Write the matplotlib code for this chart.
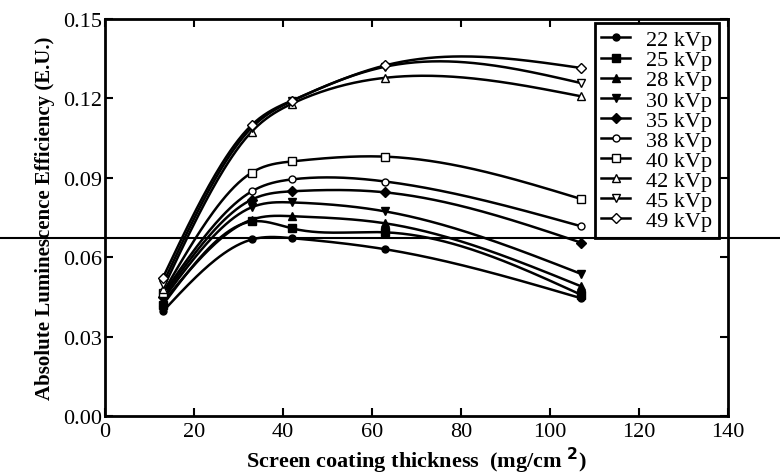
import numpy as np
import matplotlib
matplotlib.use('Agg')
import matplotlib.pyplot as plt
from matplotlib.lines import Line2D

plt.rcParams['font.family'] = ['Liberation Serif', 'DejaVu Serif']

# coating thickness (mg/cm2)
espesor = [13, 33, 42, 63, 107]

kvp = ['22 kVp', '25 kVp', '28 kVp', '30 kVp', '35 kVp',
       '38 kVp', '40 kVp', '42 kVp', '45 kVp', '49 kVp']

ef_22 = [0.0395, 0.0667, 0.0672, 0.0630, 0.0445]
ef_25 = [0.0420, 0.0735, 0.0709, 0.0694, 0.0458]
ef_28 = [0.0430, 0.0742, 0.0755, 0.0728, 0.0490]
ef_30 = [0.0440, 0.0789, 0.0807, 0.0773, 0.0537]
ef_35 = [0.0450, 0.0818, 0.0849, 0.0845, 0.0655]
ef_38 = [0.0460, 0.0849, 0.0894, 0.0886, 0.0717]
ef_40 = [0.0465, 0.0920, 0.0962, 0.0980, 0.0820]
ef_42 = [0.0480, 0.1075, 0.1180, 0.1278, 0.1208]
ef_45 = [0.0500, 0.1090, 0.1190, 0.1320, 0.1258]
ef_49 = [0.0522, 0.1100, 0.1192, 0.1325, 0.1315]

series = [ef_22, ef_25, ef_28, ef_30, ef_35, ef_38, ef_40, ef_42, ef_45, ef_49]
markers = ['o', 's', '^', 'v', 'D', 'o', 's', '^', 'v', 'D']
filled = [True] * 5 + [False] * 5


def spline(x, y, n=200):
    # natural cubic spline, only for drawing the smooth curve
    x = np.asarray(x, float)
    y = np.asarray(y, float)
    k = len(x)
    h = np.diff(x)
    A = np.zeros((k, k))
    b = np.zeros(k)
    A[0, 0] = A[-1, -1] = 1
    for i in range(1, k - 1):
        A[i, i - 1] = h[i - 1]
        A[i, i] = 2 * (h[i - 1] + h[i])
        A[i, i + 1] = h[i]
        b[i] = 6 * ((y[i + 1] - y[i]) / h[i] - (y[i] - y[i - 1]) / h[i - 1])
    M = np.linalg.solve(A, b)
    xs = np.linspace(x[0], x[-1], n)
    idx = np.clip(np.searchsorted(x, xs) - 1, 0, k - 2)
    x0, x1 = x[idx], x[idx + 1]
    hh = x1 - x0
    ys = (M[idx] * (x1 - xs) ** 3 / (6 * hh) + M[idx + 1] * (xs - x0) ** 3 / (6 * hh)
          + (y[idx] / hh - M[idx] * hh / 6) * (x1 - xs)
          + (y[idx + 1] / hh - M[idx + 1] * hh / 6) * (xs - x0))
    return xs, ys


fig = plt.figure(figsize=(7.8, 4.77), dpi=100)
ax = fig.add_axes([0.1346, 0.1258, 0.7987, 0.8322])

handles = []
for ys, m, f, lab in zip(series, markers, filled, kvp):
    xs_s, ys_s = spline(espesor, ys)
    ax.plot(xs_s, ys_s, color='black', lw=1.8)
    ms = 5 if m in ('o', 'D') else 5.5
    ax.plot(espesor, ys, ls='none', marker=m, ms=ms, color='black',
            mfc='black' if f else 'white', mec='black', mew=1.0)
    handles.append(Line2D([], [], color='black', lw=1.8, marker=m, ms=ms,
                          mfc='black' if f else 'white', mec='black', mew=1.0))

ax.set_xlim(0, 140)
ax.set_ylim(0, 0.15)
ax.set_xticks(range(0, 141, 20))
ax.set_yticks([0.0, 0.03, 0.06, 0.09, 0.12, 0.15])
ax.set_yticklabels(['0.00', '0.03', '0.06', '0.09', '0.12', '0.15'])
ax.tick_params(direction='in', length=6, width=1.5, top=True, right=True,
               labelsize=16, pad=2)
ax.tick_params(axis='x', pad=4)
for s in ax.spines.values():
    s.set_linewidth(2)

ax.set_xlabel('Screen coating thickness  (mg/cm $^{\\mathbf{2}}$)',
              fontsize=16, fontweight='bold', labelpad=3)
ax.set_ylabel('Absolute Luminescence Efficiency (E.U.)',
              fontsize=15, fontweight='bold', labelpad=6)

leg = ax.legend(handles, kvp, loc='upper right', bbox_to_anchor=(0.985, 0.99),
                fontsize=16, frameon=True, fancybox=False, edgecolor='black',
                handlelength=1.3, handletextpad=0.7, labelspacing=-0.02,
                borderpad=0.3, borderaxespad=0)
leg.get_frame().set_linewidth(2)
leg.get_frame().set_alpha(1)

fig.add_artist(Line2D([0, 1], [0.499, 0.499], transform=fig.transFigure,
                      color='black', lw=1.5))

fig.savefig('out.png', dpi=100)
